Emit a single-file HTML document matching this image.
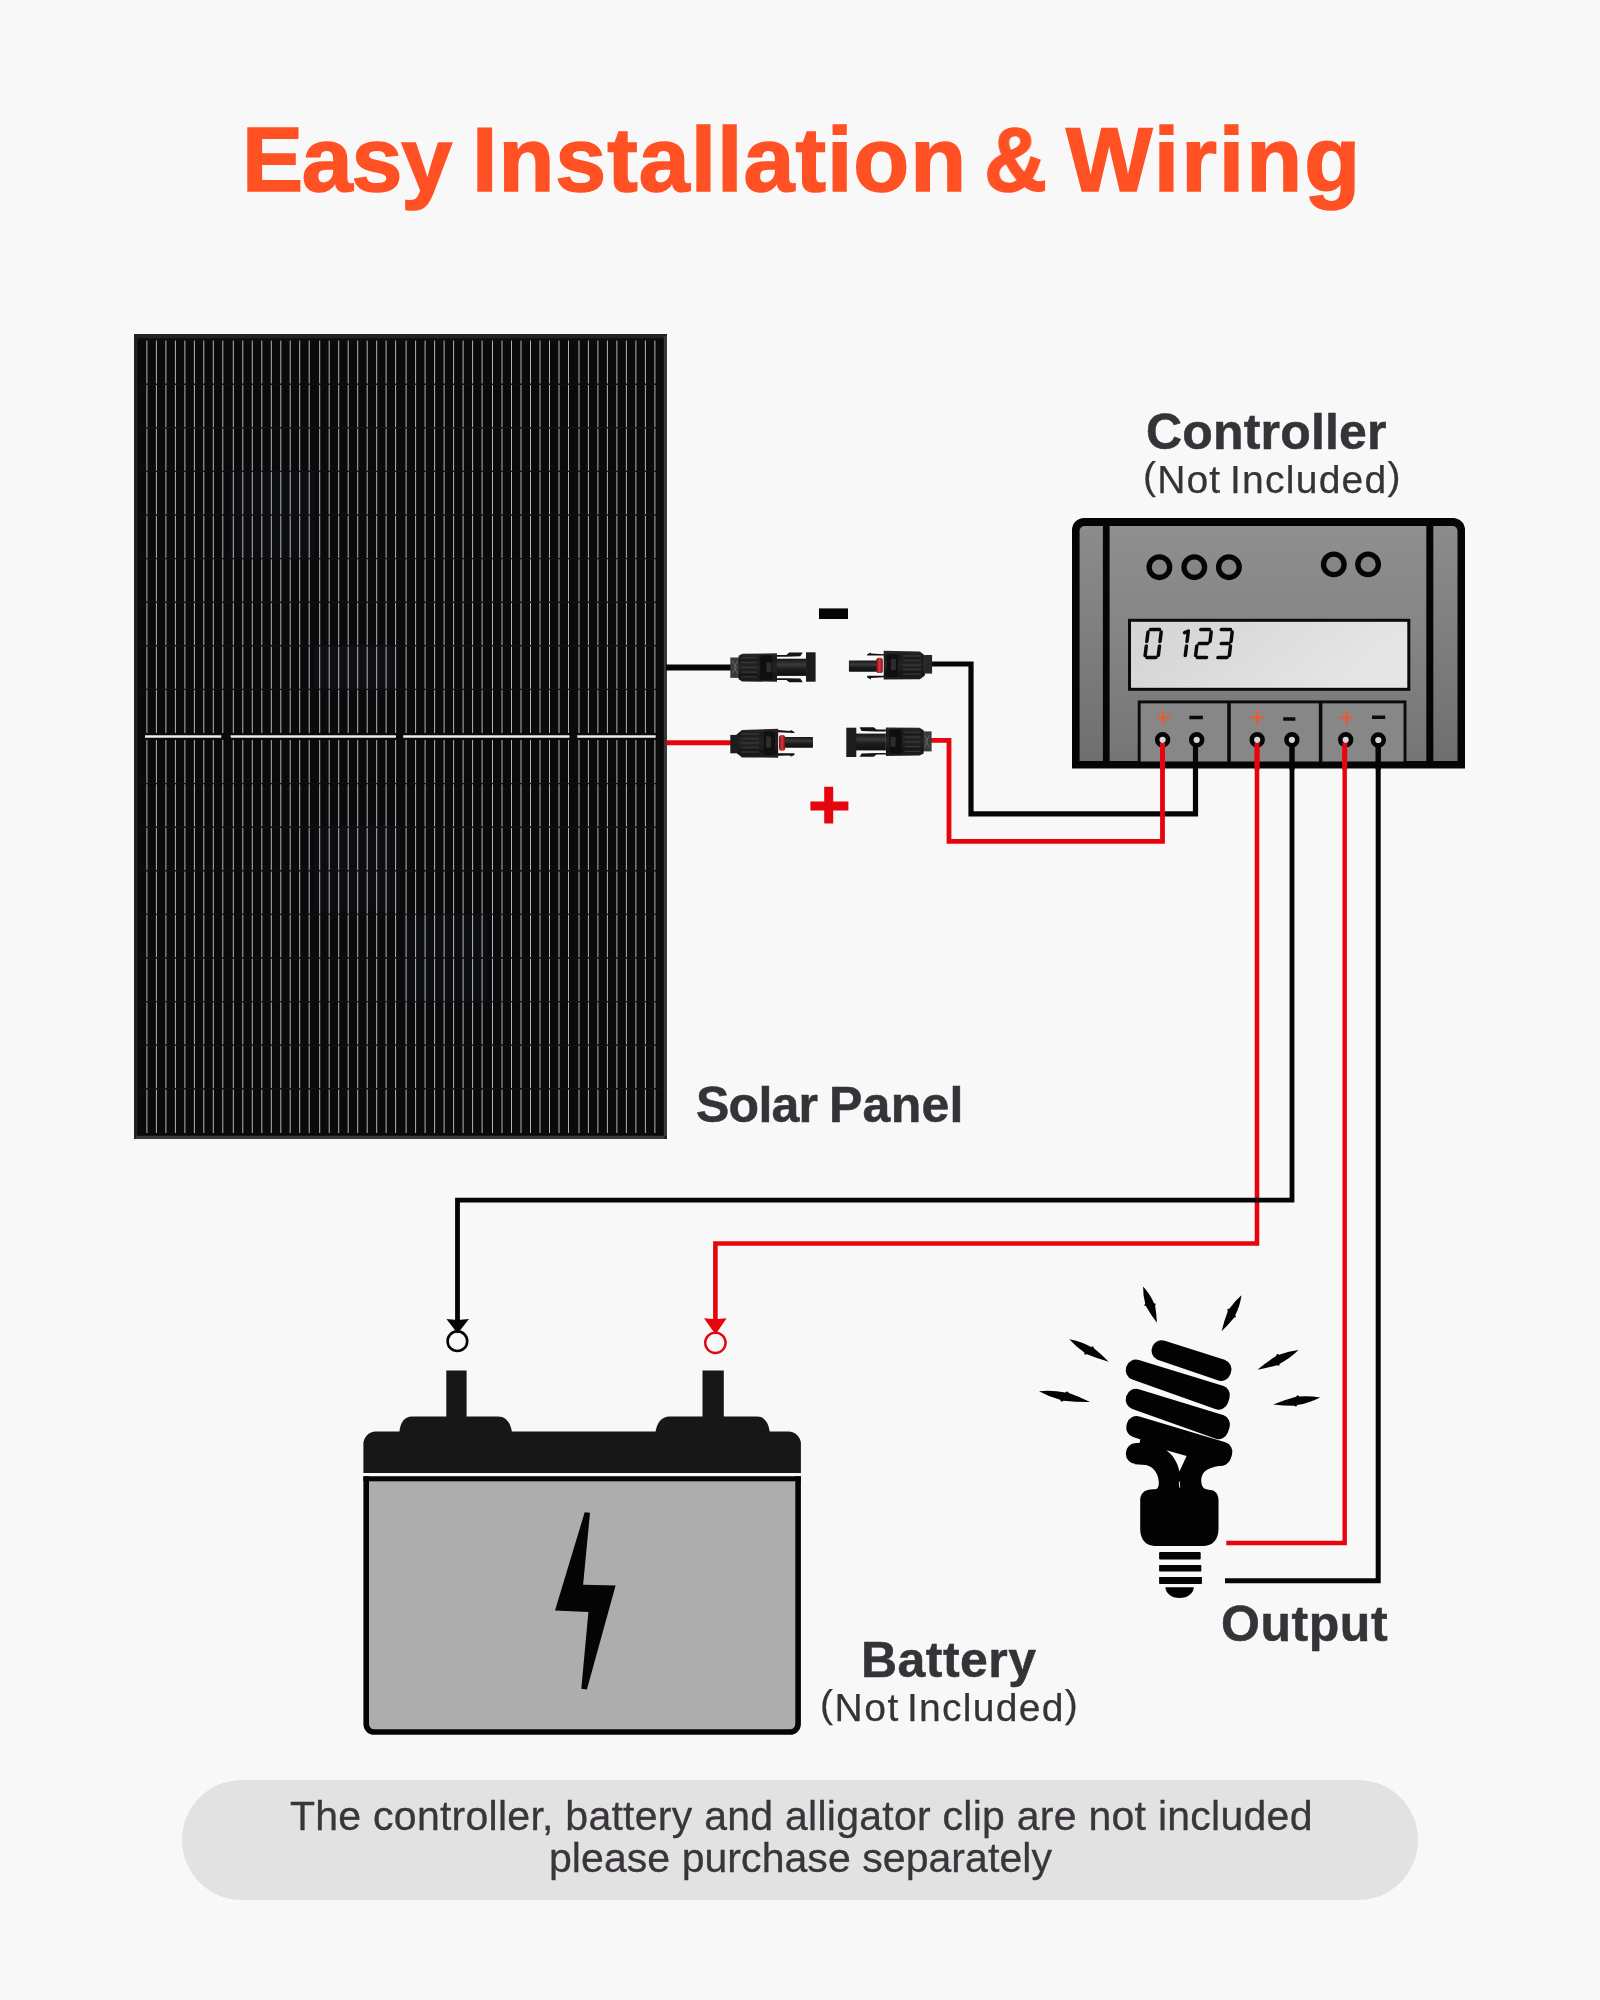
<!DOCTYPE html>
<html>
<head>
<meta charset="utf-8">
<title>Easy Installation &amp; Wiring</title>
<style>
html,body{margin:0;padding:0;}
body{width:1600px;height:2000px;background:#f8f8f8;position:relative;overflow:hidden;font-family:"Liberation Sans",sans-serif;}
#art{position:absolute;left:0;top:0;width:1600px;height:2000px;}
.t{position:absolute;white-space:nowrap;line-height:1;color:#353238;will-change:transform;}
.b{font-weight:bold;}
.tt{top:114px;font-size:91.6px;color:#ff5124;-webkit-text-stroke:1.6px #ff5124;}
#t1{left:241.9px;letter-spacing:-1.27px;}
#t2{left:471.5px;letter-spacing:0.98px;}
#t3{left:983.7px;transform:scaleX(0.952);transform-origin:0 0;}
#t4{left:1066px;letter-spacing:2.04px;}
.lb{font-size:50px;-webkit-text-stroke:0.5px #353238;}
.ni{font-size:39px;-webkit-text-stroke:0.25px #353238;}
.pr{position:relative;top:-4.3px;}
#ctrl{left:1146.4px;top:407px;letter-spacing:0.18px;}
#c2a{left:1142.9px;top:459.8px;letter-spacing:1.13px;}
#c2b{left:1230.1px;top:459.8px;letter-spacing:1.25px;}
#sol1{left:696px;top:1080px;letter-spacing:-0.75px;}
#sol2{left:829.4px;top:1080px;letter-spacing:0.25px;}
#batt{left:860.6px;top:1634.6px;letter-spacing:0.47px;}
#b2a{left:819.6px;top:1688px;letter-spacing:1.53px;}
#b2b{left:907.4px;top:1688px;letter-spacing:1.28px;}
#outp{left:1220.8px;top:1599.4px;letter-spacing:0.56px;}
#pill{position:absolute;left:182px;top:1780px;width:1236px;height:120px;border-radius:60px;background:#e2e2e2;}
#n1{left:290px;top:1796.4px;font-size:41px;color:#39353a;letter-spacing:0.26px;-webkit-text-stroke:0.3px #39353a;}
#n2{left:549px;top:1838.4px;font-size:41px;color:#39353a;letter-spacing:0.06px;-webkit-text-stroke:0.3px #39353a;}
</style>
</head>
<body>
<svg id="art" width="1600" height="2000" viewBox="0 0 1600 2000">
<!--panel.svg-->
<g id="panel">
<rect x="134" y="334" width="533" height="805" fill="#1e1e1e"/>
<path d="M134 334H667V1139H134Z M137 337.5V1136H664V337.5Z" fill="#222" fill-rule="evenodd"/>
<path d="M664 336V1139H667V336ZM136 1136H667V1139H136Z" fill="#383838"/>
<rect x="137.5" y="338.5" width="526" height="797" fill="#0a0a0c"/>
<rect x="314" y="646" width="82" height="43" fill="#1a1c2a" opacity="0.3"/><rect x="314" y="825" width="86" height="86" fill="#17181f" opacity="0.3"/><rect x="403" y="915" width="84" height="86" fill="#15161b" opacity="0.3"/><rect x="230" y="472" width="84" height="86" fill="#15161a" opacity="0.3"/>
<path d="M146.9 340.6V733M156.4 340.6V733M165.9 340.6V733M175.4 340.6V733M184.9 340.6V733M194.4 340.6V733M203.8 340.6V733M213.3 340.6V733M222.8 340.6V733M233.3 340.6V733M242.8 340.6V733M252.3 340.6V733M261.8 340.6V733M271.3 340.6V733M280.8 340.6V733M290.2 340.6V733M299.7 340.6V733M309.2 340.6V733M319.7 340.6V733M329.2 340.6V733M338.7 340.6V733M348.2 340.6V733M357.7 340.6V733M367.2 340.6V733M376.7 340.6V733M386.1 340.6V733M395.6 340.6V733M406.1 340.6V733M415.6 340.6V733M425.1 340.6V733M434.6 340.6V733M444.1 340.6V733M453.6 340.6V733M463.1 340.6V733M472.6 340.6V733M482.1 340.6V733M492.5 340.6V733M502.0 340.6V733M511.5 340.6V733M521.0 340.6V733M530.5 340.6V733M540.0 340.6V733M549.5 340.6V733M559.0 340.6V733M568.5 340.6V733M579.0 340.6V733M588.4 340.6V733M597.9 340.6V733M607.4 340.6V733M616.9 340.6V733M626.4 340.6V733M635.9 340.6V733M645.4 340.6V733M654.9 340.6V733M146.9 740V1133M156.4 740V1133M165.9 740V1133M175.4 740V1133M184.9 740V1133M194.4 740V1133M203.8 740V1133M213.3 740V1133M222.8 740V1133M233.3 740V1133M242.8 740V1133M252.3 740V1133M261.8 740V1133M271.3 740V1133M280.8 740V1133M290.2 740V1133M299.7 740V1133M309.2 740V1133M319.7 740V1133M329.2 740V1133M338.7 740V1133M348.2 740V1133M357.7 740V1133M367.2 740V1133M376.7 740V1133M386.1 740V1133M395.6 740V1133M406.1 740V1133M415.6 740V1133M425.1 740V1133M434.6 740V1133M444.1 740V1133M453.6 740V1133M463.1 740V1133M472.6 740V1133M482.1 740V1133M492.5 740V1133M502.0 740V1133M511.5 740V1133M521.0 740V1133M530.5 740V1133M540.0 740V1133M549.5 740V1133M559.0 740V1133M568.5 740V1133M579.0 740V1133M588.4 740V1133M597.9 740V1133M607.4 740V1133M616.9 740V1133M626.4 740V1133M635.9 740V1133M645.4 740V1133M654.9 740V1133" stroke="#d2d2d2" stroke-width="0.85" fill="none"/>
<path d="M140 384.2H661M140 427.8H661M140 471.4H661M140 515.0H661M140 558.6H661M140 602.2H661M140 645.8H661M140 689.4H661M140 783.6H661M140 827.2H661M140 870.8H661M140 914.4H661M140 958.0H661M140 1001.6H661M140 1045.2H661M140 1088.8H661" stroke="#0f0f11" stroke-width="1.4" fill="none"/>
<path d="M145 736.5H221.3M230.7 736.5H395.9M403.2 736.5H569.5M577.3 736.5H655.7" stroke="#f0f0f0" stroke-width="2.6" fill="none"/>
</g>
<!--/panel.svg-->
<!--controller.svg-->
<g id="controller">
<defs>
<linearGradient id="cg" x1="0" y1="0" x2="0" y2="1"><stop offset="0" stop-color="#8f8f8f"/><stop offset="0.45" stop-color="#858585"/><stop offset="1" stop-color="#757575"/></linearGradient>
<linearGradient id="cs" x1="0" y1="0" x2="0" y2="1"><stop offset="0" stop-color="#8c8c8c"/><stop offset="1" stop-color="#6f6f6f"/></linearGradient>
<linearGradient id="lcd" x1="0" y1="0" x2="1" y2="0.3"><stop offset="0" stop-color="#d3d3d3"/><stop offset="0.6" stop-color="#dedede"/><stop offset="1" stop-color="#e6e6e6"/></linearGradient>
</defs>
<path d="M1072 768.3V530a12 12 0 0 1 12-12H1453a12 12 0 0 1 12 12V768.3Z" fill="#050505"/>
<path d="M1079.6 761V531a5 5 0 0 1 5-5H1102.9V761Z" fill="url(#cs)"/>
<rect x="1109.6" y="526" width="316.7" height="235" fill="url(#cg)"/>
<path d="M1433.3 761V526H1452.5a5 5 0 0 1 5 5V761Z" fill="url(#cs)"/>
<g fill="#858585" stroke="#050505" stroke-width="5.3">
<circle cx="1159.4" cy="567.2" r="10.3"/><circle cx="1194.3" cy="567.2" r="10.3"/><circle cx="1228.9" cy="567.2" r="10.3"/>
<circle cx="1333.8" cy="564.4" r="10.3"/><circle cx="1368.1" cy="564.4" r="10.3"/>
</g>
<rect x="1129.5" y="620.3" width="279.3" height="69" fill="url(#lcd)" stroke="#0a0a0a" stroke-width="3"/>
<g id="digits" fill="none" stroke="#0a0a0a" stroke-width="3.5" stroke-linecap="round" stroke-linejoin="round" transform="translate(0,658) skewX(-7) translate(0,-658)">
<!-- 0 -->
<path d="M1146.9 629.5H1156M1144.8 632V641.5M1144.8 646V655.5M1158 632V641.5M1158 646V655.5M1146.9 657.5H1156"/>
<!-- 1 -->
<path d="M1185 632V641.5M1185 646V655.5M1185 631l-3.6 1.6"/>
<!-- 2 -->
<path d="M1197.3 629.5H1206M1208 632V641.5M1197.3 643.5H1206M1195.3 646V655.5M1197.3 657.5H1206.5"/>
<!-- 3 -->
<path d="M1217.8 629.5H1227M1229 632V641.5M1219.5 643.5H1227M1229 646V655.5M1217.8 657.5H1227"/>
</g>
<rect x="1139.2" y="701.9" width="265.8" height="62" fill="#878787" stroke="#0a0a0a" stroke-width="2.9"/>
<path d="M1229 701V763M1320.6 701V763" stroke="#0a0a0a" stroke-width="3.5"/>
<rect x="1072" y="761.5" width="393" height="6.8" fill="#050505"/>
<path d="M1156 717.5h14.4M1163.2 710.3v14.4M1250 717.5h14.4M1257.2 710.3v14.4M1339.4 717.5h14.4M1346.6 710.3v14.4" stroke="#ec5a30" stroke-width="2.2" fill="none"/>
<path d="M1189.3 717.5h13.6M1283.2 719h12.1M1372 717.2h13.2" stroke="#0a0a0a" stroke-width="3.6" fill="none"/>
</g>

<!--/controller.svg-->
<!--wires.svg-->
<g id="wires" fill="none" stroke-linejoin="miter">
<path d="M1257 741V1243.5H715.4V1322" stroke="#e6050c" stroke-width="4.6"/>
<path d="M1344.7 741V1543H1226.3" stroke="#e6050c" stroke-width="4.4"/>
<path d="M666 667.5H731" stroke="#050505" stroke-width="6"/>
<path d="M931 664H971V813.8H1195.5V741" stroke="#050505" stroke-width="5.2"/>
<path d="M1292 741V1200.2H457.5V1322" stroke="#050505" stroke-width="4.8"/>
<path d="M1378.2 741V1580.8H1225" stroke="#050505" stroke-width="5"/>
<path d="M666.5 742.8H731" stroke="#e6050c" stroke-width="5"/>
<path d="M931 740.4H949V841.3H1162.5V741" stroke="#e6050c" stroke-width="4.8"/>
</g>
<g id="terms" fill="#d6d6d6" stroke="#050505" stroke-width="4.6">
<circle cx="1162.6" cy="739.8" r="5.4"/><circle cx="1196.7" cy="739.8" r="5.4"/><circle cx="1257.2" cy="739.8" r="5.4"/><circle cx="1291.9" cy="739.8" r="5.4"/><circle cx="1345.7" cy="739.8" r="5.4"/><circle cx="1378.3" cy="740" r="5.4"/>
</g>
<g id="termwires" fill="none">
<path d="M1162.5 743V770M1257 743V770M1344.7 743V770" stroke="#e6050c" stroke-width="5"/>
<path d="M1195.5 746V770M1292 746V770M1378.2 746V770" stroke="#050505" stroke-width="5"/>
</g>
<g id="arrows">
<path d="M446.4 1319L457.5 1320L469 1319L457.6 1333.6Z" fill="#050505"/>
<circle cx="457.4" cy="1341.2" r="9.8" fill="none" stroke="#050505" stroke-width="2.6"/>
<path d="M704 1318.3L715.4 1319.3L726.6 1318.3L715.5 1334.4Z" fill="#e6050c"/>
<circle cx="715.4" cy="1342.8" r="10.2" fill="none" stroke="#e6050c" stroke-width="2.4"/>
<rect x="819" y="608.4" width="29" height="10.6" fill="#050505"/>
<path d="M810.4 806.1H848.4M828.7 786.7V823.5" stroke="#e6050c" stroke-width="9" fill="none"/>
</g>

<!--/wires.svg-->
<!--connectors.svg-->
<g id="connectors">
<defs>
<linearGradient id="kb" x1="0" y1="0" x2="0" y2="1"><stop offset="0" stop-color="#2a2a2a"/><stop offset="0.18" stop-color="#1a1a1a"/><stop offset="0.5" stop-color="#242424"/><stop offset="0.82" stop-color="#151515"/><stop offset="1" stop-color="#222"/></linearGradient>
<linearGradient id="kp" x1="0" y1="0" x2="0" y2="1"><stop offset="0" stop-color="#161616"/><stop offset="0.35" stop-color="#3a3a3a"/><stop offset="0.6" stop-color="#1c1c1c"/><stop offset="1" stop-color="#101010"/></linearGradient>
<linearGradient id="kr" x1="0" y1="0" x2="1" y2="0"><stop offset="0" stop-color="#6a1014"/><stop offset="0.5" stop-color="#e0353c"/><stop offset="1" stop-color="#7a1418"/></linearGradient>
</defs>
<!-- female, facing right: local coords, x 0..85.6, centre y 0 ; body -->
<g id="fem" transform="translate(730.3,667.3)">
<rect x="0" y="-9.8" width="9" height="20.4" fill="#3b3b3b"/>
<path d="M2 -6l4 6l-4 6M7 -6l-3 6l3 6" stroke="#666" stroke-width="1" fill="none"/>
<path d="M8.3 -11.5L12 -13.6L46.7 -14V14.4L12 14.2L8.3 12Z" fill="url(#kb)"/>
<path d="M11 -9.5H27M11 -4.8H27M11 0H27M11 4.8H27M11 9.5H27" stroke="#383838" stroke-width="1.3"/>
<rect x="30" y="-12" width="12" height="24.5" fill="#0e0e0e"/>
<rect x="36" y="-5" width="5" height="10" fill="#2d2d2d"/>
<rect x="46.7" y="-8.6" width="30" height="17.2" fill="url(#kp)"/>
<path d="M46.7 -12.2H56L59 -14.8H72.5L70 -11L56 -10.6H46.7ZM46.7 12.6H56L59 15H72.5L70 11.3L56 10.9H46.7Z" fill="#141414"/>
<rect x="75.7" y="-15" width="9.6" height="29.4" fill="#1c1c1c"/>
</g>
<!-- male, facing left: x 0..83.2 -->
<g id="mal" transform="translate(848.9,665)">
<rect x="0" y="-4.4" width="28" height="11.2" rx="0.8" fill="url(#kp)"/>
<rect x="27.3" y="-7.2" width="6.6" height="15.2" rx="2.6" fill="url(#kr)"/>
<path d="M18.3 -10.8L22 -12.6V-11.4L35.2 -10.8V-9.4H18.3ZM18.3 12.4L22 14.4V13L35.2 12.2V10.8H18.3Z" fill="#111"/>
<path d="M34.8 -14.2L71 -13.6L76 -9.6V10.4L71 14.2L34.8 14.6Z" fill="url(#kb)"/>
<rect x="38" y="-11" width="11" height="23" fill="#101010"/>
<rect x="42" y="-6" width="5" height="11" fill="#2d2d2d"/>
<path d="M54 -9H72M54 -4.5H72M54 0H72M54 4.5H72M54 9H72" stroke="#363636" stroke-width="1.3"/>
<rect x="75.7" y="-10" width="7.5" height="18.6" fill="#272727"/>
</g>
<!-- bottom-left male facing right: mirror of male -->
<g transform="translate(813,742.5) scale(-1,1)">
<rect x="0" y="-5.4" width="28" height="10.7" rx="0.8" fill="url(#kp)"/>
<rect x="27.8" y="-7.4" width="6.2" height="15.6" rx="2.6" fill="url(#kr)"/>
<path d="M18.6 -10.6L22.5 -12.8V-11.4L35.2 -12.6V-10.3L18.6 -9.6ZM18.6 12.4L22.5 14.2V13L35.2 13.2V10.8H18.6Z" fill="#111"/>
<path d="M34.8 -13.8L71 -12.6L76.5 -8V10.6L71 15L34.8 15.2Z" fill="url(#kb)"/>
<rect x="38" y="-11" width="11" height="23.5" fill="#101010"/>
<rect x="42" y="-6" width="5" height="11" fill="#2d2d2d"/>
<path d="M54 -8.5H72M54 -4H72M54 0.5H72M54 5H72M54 9.5H72" stroke="#363636" stroke-width="1.3"/>
<rect x="75.2" y="-7.6" width="7.5" height="18.4" fill="#1d1d1d"/>
</g>
<!-- bottom-right female facing left: mirror of female -->
<g transform="translate(931.6,741.8) scale(-1,1)">
<rect x="0" y="-10.4" width="9" height="20" fill="#3b3b3b"/>
<path d="M2 -6.5l4 6l-4 6M7 -6.5l-3 6l3 6" stroke="#666" stroke-width="1" fill="none"/>
<path d="M7.9 -11.6L12 -14L45.7 -14.4V14.2L12 13.6L7.9 11.6Z" fill="url(#kb)"/>
<path d="M11 -9.5H27M11 -4.8H27M11 0H27M11 4.8H27M11 9.5H27" stroke="#383838" stroke-width="1.3"/>
<rect x="30" y="-12.4" width="12" height="24.5" fill="#0e0e0e"/>
<rect x="36" y="-5" width="5" height="10" fill="#2d2d2d"/>
<rect x="45.7" y="-8.2" width="30" height="16.8" fill="url(#kp)"/>
<path d="M45.7 -12.4H55L58 -14.6H72L70 -10.8L55 -10.4H45.7ZM45.7 12.8H55L58 15H72L70 11.6L55 11.2H45.7Z" fill="#141414"/>
<rect x="75.3" y="-14.1" width="10" height="29.3" fill="#1c1c1c"/>
</g>
</g>

<!--/connectors.svg-->
<!--battery.svg-->
<g id="battery">
<path d="M366.2 1476.3V1724a8 8 0 0 0 8 8H790.1a8 8 0 0 0 8-8V1476.3" fill="#adadad" stroke="#050505" stroke-width="5.6"/>
<rect x="363.4" y="1476.3" width="437.5" height="5" fill="#050505"/>
<path d="M363.4 1473.1V1444a12.4 12.4 0 0 1 12.4-12.4H399.4C400.5 1423 404 1416.6 412 1416.6H446.3V1370.6H466.6V1416.6H498C506 1416.6 510.5 1423 511.9 1431.6H655.6C657 1423 661.5 1416.6 669.5 1416.6H702.5V1370.6H723.8V1416.6H757C765 1416.6 768.5 1423 769.7 1431.6H788.5a12.4 12.4 0 0 1 12.4 12.4V1473.1Z" fill="#171717"/>
<path d="M584.7 1512.2L590 1512.8L583.1 1584.7L615.6 1585.6L586.9 1689.4L581.3 1688.8L588.4 1611.9L555 1610.6Z" fill="#050505"/>
</g>

<!--/battery.svg-->
<!--bulb.svg-->
<g id="bulb" fill="#030303" stroke="none">
<path d="M1161.5 1350.6L1220.9 1370.9L1221.5 1369.3L1161.7 1350.2Z" stroke="#030303" stroke-width="20.0" stroke-linejoin="round"/>
<path d="M1135.7 1370.2L1218.5 1399.6L1219.9 1395.2L1135.9 1369.6Z" stroke="#030303" stroke-width="20.0" stroke-linejoin="round"/>
<path d="M1135.7 1399.6L1218.4 1429.1L1220.0 1424.5L1135.9 1398.8Z" stroke="#030303" stroke-width="20.0" stroke-linejoin="round"/>
<path d="M1136.2 1427.5L1221.2 1455.7L1222.4 1451.9L1136.6 1426.1Z" stroke="#030303" stroke-width="20.0" stroke-linejoin="round"/>
<path d="M1135.9 1454.0L1165.0 1454.0L1165.0 1453.0L1135.9 1453.0Z" stroke="#030303" stroke-width="20.0" stroke-linejoin="round"/>
<path d="M1142 1432L1226 1452L1223 1465.6C1216 1466 1205 1468.5 1202.3 1475C1200.6 1479 1200.8 1484 1203.2 1487.6C1205 1489.6 1208 1489.8 1210.4 1489.9C1215 1490 1218.5 1494 1218.5 1500.2V1529C1218.5 1540 1212 1545.9 1204.1 1545.9H1154.6C1146.5 1545.9 1140.2 1540 1140.2 1529V1500.2C1140.2 1494 1144 1489.6 1151 1489.4C1153.5 1489.3 1156.2 1489.4 1157.3 1488.5C1159 1486 1159 1483 1158.6 1480.4C1158 1474 1154 1467 1146 1465L1134.8 1464.2Z"/>
<path d="M1166.3 1450.2L1186.6 1456.1L1179.4 1471.4C1177.5 1462 1173 1455 1166.3 1450.2Z" fill="#f8f8f8"/>
<path d="M1179.3 1481.5L1179.7 1487.5" stroke="#ddd" stroke-width="1" fill="none"/>
<rect x="1159.1" y="1552" width="41.6" height="7.4" rx="1"/>
<rect x="1159.1" y="1565" width="42.2" height="6.4" rx="0.6"/>
<rect x="1159.1" y="1577" width="42.8" height="6.9" rx="0.6"/>
<path d="M1165.4 1587.2H1193.8C1193.5 1593 1188 1598 1179.6 1598C1171 1598 1165.8 1593 1165.4 1587.2Z"/>
<path transform="translate(1143.1 1286.6) rotate(69.1)" d="M0 0Q9.7 -3.9 19.4 -4.2L20.5 -5.8L22.1 -4.4Q31.0 -2.7 38.7 0Q29.1 2.9 19.4 4.3L17.8 5.8L16.7 4.1Q7.7 3.2 0 0Z"/>
<path transform="translate(1241.5 1295.2) rotate(118.9)" d="M0 0Q10.3 -3.9 20.6 -4.2L21.8 -5.8L23.4 -4.4Q32.9 -2.7 41.1 0Q30.9 2.9 20.6 4.3L18.9 5.8L17.7 4.1Q8.2 3.2 0 0Z"/>
<path transform="translate(1069.4 1339.3) rotate(29.8)" d="M0 0Q11.3 -3.9 22.7 -4.2L24.0 -5.8L25.8 -4.4Q36.3 -2.7 45.3 0Q34.0 2.9 22.7 4.3L20.9 5.8L19.5 4.1Q9.1 3.2 0 0Z"/>
<path transform="translate(1298.5 1350.0) rotate(154.4)" d="M0 0Q11.4 -3.9 22.8 -4.2L24.2 -5.8L26.0 -4.4Q36.5 -2.7 45.6 0Q34.2 2.9 22.8 4.3L21.0 5.8L19.6 4.1Q9.1 3.2 0 0Z"/>
<path transform="translate(1039.0 1391.2) rotate(11.9)" d="M0 0Q13.0 -3.9 26.1 -4.2L27.6 -5.8L29.7 -4.4Q41.7 -2.7 52.1 0Q39.1 2.9 26.1 4.3L24.0 5.8L22.4 4.1Q10.4 3.2 0 0Z"/>
<path transform="translate(1320.2 1397.4) rotate(171.5)" d="M0 0Q11.9 -3.9 23.8 -4.2L25.2 -5.8L27.1 -4.4Q38.1 -2.7 47.6 0Q35.7 2.9 23.8 4.3L21.9 5.8L20.5 4.1Q9.5 3.2 0 0Z"/>
</g>
<!--/bulb.svg-->

</svg>
<div id="pill"></div>
<div class="t b tt" id="t1">Easy</div><div class="t b tt" id="t2">Installation</div><div class="t b tt" id="t3">&amp;</div><div class="t b tt" id="t4">Wiring</div>
<div class="t b lb" id="ctrl">Controller</div>
<div class="t ni" id="c2a"><span class="pr">(</span>Not</div><div class="t ni" id="c2b">Included<span class="pr">)</span></div>
<div class="t b lb" id="sol1">Solar</div><div class="t b lb" id="sol2">Panel</div>
<div class="t b lb" id="batt">Battery</div>
<div class="t ni" id="b2a"><span class="pr">(</span>Not</div><div class="t ni" id="b2b">Included<span class="pr">)</span></div>
<div class="t b lb" id="outp">Output</div>
<div class="t" id="n1">The controller, battery and alligator clip are not included</div>
<div class="t" id="n2">please purchase separately</div>
</body>
</html>
